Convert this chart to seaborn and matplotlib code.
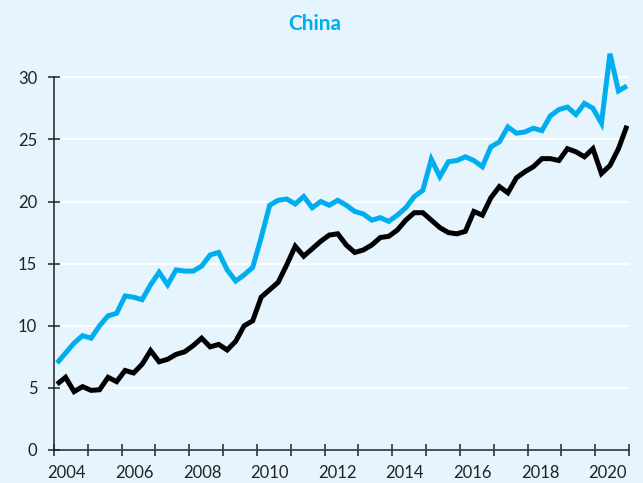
import numpy as np
import pandas as pd
import matplotlib
matplotlib.use("Agg")
import matplotlib.pyplot as plt
import seaborn as sns

# ---- data (quarterly, 2004Q1 .. 2020Q4) ----
quarters = [f"{y}Q{q}" for y in range(2004, 2021) for q in range(1, 5)]
cyan_values = [
    7.0, 7.8, 8.6, 9.2, 9.0, 10.0, 10.8, 11.0,
    12.4, 12.3, 12.1, 13.3, 14.3, 13.3, 14.5, 14.4,
    14.4, 14.8, 15.7, 15.9, 14.5, 13.6, 14.1, 14.7,
    17.1, 19.7, 20.1, 20.2, 19.8, 20.4, 19.5, 20.0,
    19.7, 20.1, 19.7, 19.2, 19.0, 18.5, 18.7, 18.4,
    18.9, 19.5, 20.4, 20.9, 23.4, 22.0, 23.2, 23.3,
    23.6, 23.3, 22.8, 24.4, 24.8, 26.0, 25.5, 25.6,
    25.9, 25.7, 26.9, 27.4, 27.6, 27.0, 27.9, 27.5,
    26.3, 31.9, 28.9, 29.3,
]
black_values = [
    5.3, 5.85, 4.7, 5.1, 4.8, 4.85, 5.85, 5.5,
    6.4, 6.2, 6.9, 8.0, 7.1, 7.3, 7.7, 7.9,
    8.4, 9.0, 8.3, 8.5, 8.05, 8.75, 10.0, 10.4,
    12.3, 12.9, 13.5, 14.9, 16.4, 15.6, 16.2, 16.8,
    17.3, 17.4, 16.5, 15.9, 16.1, 16.5, 17.1, 17.2,
    17.7, 18.5, 19.1, 19.1, 18.5, 17.9, 17.5, 17.4,
    17.6, 19.2, 18.9, 20.3, 21.2, 20.7, 21.9, 22.4,
    22.8, 23.45, 23.45, 23.3, 24.25, 24.0, 23.6, 24.25,
    22.25, 22.9, 24.25, 26.1,
]
series_names = ["series_a", "series_b"]
year_labels = [str(y) for y in range(2004, 2021, 2)]
y_ticks = [0, 5, 10, 15, 20, 25, 30]
title = "China"

# ---- styling ----
CYAN = "#00AEEF"
BLACK = "#000000"
BG = "#E6F5FD"
TEXT = "#222222"

sns.set_theme(style="white")
plt.rcParams['font.family'] = ['Lato', 'DejaVu Sans']

n = len(quarters)
positions = np.linspace(2004.09, 2020.94, n)
df = pd.DataFrame({
    "x": np.concatenate([positions, positions]),
    "value": cyan_values + black_values,
    "series": [series_names[0]] * n + [series_names[1]] * n,
})

fig = plt.figure(figsize=(6.43, 4.83), dpi=100, facecolor=BG)
ax = fig.add_axes([54 / 643, 33 / 483, (629 - 54) / 643, 410 / 483])
ax.set_facecolor(BG)

sns.lineplot(data=df, x="x", y="value", hue="series",
             palette=[CYAN, BLACK], linewidth=3.6, legend=False, ax=ax,
             solid_joinstyle="miter", solid_capstyle="butt")

ax.set_xlim(2004, 2021)
ax.set_ylim(0, 33)
ax.set_xlabel("")
ax.set_ylabel("")

ax.grid(axis="y", color="white", linewidth=1.3)
ax.grid(axis="x", visible=False)
ax.set_axisbelow(True)

for s in ["top", "right"]:
    ax.spines[s].set_visible(False)
for s in ["left", "bottom"]:
    ax.spines[s].set_color(TEXT)
    ax.spines[s].set_linewidth(1.1)
ax.spines["left"].set_bounds(0, 30)
ax.spines["bottom"].set_bounds(2004, 2021)

ax.set_yticks(y_ticks)
ax.set_yticklabels([str(v) for v in y_ticks])
ax.tick_params(axis="y", direction="inout", length=8, width=1.1, color=TEXT,
               labelsize=12, labelcolor=TEXT, pad=8, left=True)

ax.set_xticks(list(range(2004, 2022)))
ax.set_xticklabels([""] * len(range(2004, 2022)))
ax.set_xticks([int(y) + 0.375 for y in year_labels], minor=True)
ax.set_xticklabels(year_labels, minor=True)
ax.tick_params(axis="x", which="major", direction="inout", length=8, width=1.1,
               color=TEXT, bottom=True)
ax.tick_params(axis="x", which="minor", length=0, labelsize=12,
               labelcolor=TEXT, pad=11, bottom=True)

fig.text(315 / 643, 1 - 24 / 483, title, ha="center", va="center",
         color=CYAN, fontsize=15, fontweight="bold")

fig.savefig("out.png", dpi=100, facecolor=BG)
